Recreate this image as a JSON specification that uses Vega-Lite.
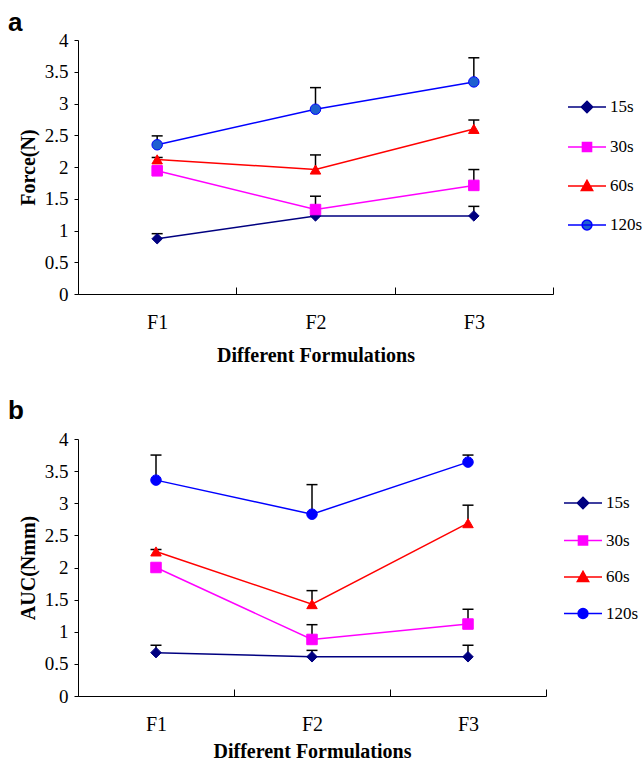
{
  "$schema": "https://vega.github.io/schema/vega-lite/v6.json",
  "background": "white",
  "padding": {"left": 8, "top": 10, "right": 0, "bottom": 0},
  "spacing": 33,
  "datasets": {
    "force": [
      {"form": "F1", "series": "15s", "mean": 0.87, "upper": 0.95},
      {"form": "F2", "series": "15s", "mean": 1.23, "upper": null},
      {"form": "F3", "series": "15s", "mean": 1.23, "upper": 1.38},
      {"form": "F1", "series": "30s", "mean": 1.94, "upper": null},
      {"form": "F2", "series": "30s", "mean": 1.33, "upper": 1.54},
      {"form": "F3", "series": "30s", "mean": 1.71, "upper": 1.96},
      {"form": "F1", "series": "60s", "mean": 2.12, "upper": 2.15},
      {"form": "F2", "series": "60s", "mean": 1.96, "upper": 2.19},
      {"form": "F3", "series": "60s", "mean": 2.60, "upper": 2.74},
      {"form": "F1", "series": "120s", "mean": 2.35, "upper": 2.49},
      {"form": "F2", "series": "120s", "mean": 2.91, "upper": 3.25},
      {"form": "F3", "series": "120s", "mean": 3.34, "upper": 3.72}
    ],
    "auc": [
      {"form": "F1", "series": "15s", "mean": 0.675, "upper": 0.79},
      {"form": "F2", "series": "15s", "mean": 0.61, "upper": 0.71},
      {"form": "F3", "series": "15s", "mean": 0.61, "upper": 0.79},
      {"form": "F1", "series": "30s", "mean": 2.0, "upper": null},
      {"form": "F2", "series": "30s", "mean": 0.88, "upper": 1.11},
      {"form": "F3", "series": "30s", "mean": 1.12, "upper": 1.35},
      {"form": "F1", "series": "60s", "mean": 2.25, "upper": 2.28},
      {"form": "F2", "series": "60s", "mean": 1.43, "upper": 1.64},
      {"form": "F3", "series": "60s", "mean": 2.69, "upper": 2.97},
      {"form": "F1", "series": "120s", "mean": 3.36, "upper": 3.75},
      {"form": "F2", "series": "120s", "mean": 2.83, "upper": 3.29},
      {"form": "F3", "series": "120s", "mean": 3.64, "upper": 3.75}
    ]
  },
  "config": {
    "view": {"stroke": null},
    "axis": {
      "labelFont": "Liberation Serif", "titleFont": "Liberation Serif",
      "labelColor": "#000", "titleColor": "#000", "domainColor": "#000", "tickColor": "#000",
      "grid": false, "titleFontWeight": "bold", "domainWidth": 1, "tickWidth": 1
    },
    "legend": {
      "labelFont": "Liberation Serif", "labelFontSize": 17, "labelColor": "#000"
    }
  },
  "resolve": {"scale": {"color": "independent", "fill": "independent", "stroke": "independent", "shape": "independent"}},
  "vconcat": [
    {
      "width": 475, "height": 254,
      "title": {"text": "a", "anchor": "start", "frame": "group", "dx": -70, "font": "Liberation Sans", "fontSize": 26, "fontWeight": "bold", "color": "#000", "offset": -5},
      "data": {"name": "force"},
      "resolve": {"scale": {"color": "independent", "fill": "independent", "stroke": "independent", "shape": "independent"}},
      "encoding": {
        "x": {"field": "form", "type": "nominal", "scale": {"paddingInner": 0, "paddingOuter": 0},
          "axis": {"title": "Different Formulations", "labelAngle": 0, "tickBand": "extent", "tickSize": -7, "labelPadding": 25, "labelFontSize": 20, "titleFontSize": 20, "titlePadding": 13}},
        "y": {"field": "mean", "type": "quantitative", "scale": {"domain": [0, 4]},
          "axis": {"title": "Force(N)", "values": [0, 0.5, 1, 1.5, 2, 2.5, 3, 3.5, 4], "format": "~g", "tickSize": 4, "labelPadding": 6, "labelFontSize": 19, "titleFontSize": 20, "titlePadding": 6}}
      },
      "layer": [
        {
          "transform": [{"filter": "isValid(datum.upper)"}],
          "mark": {"type": "rule", "color": "#000", "strokeWidth": 1.5},
          "encoding": {"y2": {"field": "upper"}}
        },
        {
          "transform": [{"filter": "isValid(datum.upper)"}],
          "mark": {"type": "tick", "color": "#000", "thickness": 1.5, "size": 11, "orient": "horizontal", "opacity": 1},
          "encoding": {"y": {"field": "upper", "type": "quantitative", "title": "Force(N)"}}
        },
        {
          "mark": {"type": "line", "strokeWidth": 1.5},
          "encoding": {
            "stroke": {"field": "series", "type": "nominal", "legend": null,
              "scale": {"range": ["#0000ff", "#000080", "#ff00ff", "#ff0000"]}}
          }
        },
        {
          "mark": {"type": "point", "filled": true, "size": 110, "opacity": 1, "strokeWidth": 1},
          "encoding": {
            "fill": {"field": "series", "type": "nominal", "legend": null,
              "scale": {"range": ["#1f60d0", "#000080", "#ff00ff", "#ff0000"]}},
            "stroke": {"field": "series", "type": "nominal", "legend": null,
              "scale": {"range": ["#0000ff", "#000080", "#ff00ff", "#ff0000"]}},
            "shape": {"field": "series", "type": "nominal", "legend": null,
              "scale": {"range": ["circle", "diamond", "square", "triangle-up"]}}
          }
        },
        {
          "transform": [{"filter": "false"}],
          "mark": {"type": "point", "filled": true, "opacity": 1, "strokeWidth": 1.5},
          "encoding": {
            "color": {"field": "series", "type": "nominal",
              "scale": {"domain": ["15s", "30s", "60s", "120s"], "range": ["#000080", "#ff00ff", "#ff0000", "#1f60d0"]},
              "legend": {
                "title": null, "orient": "none", "legendX": 489, "legendY": 47, "padding": 0,
                "symbolSize": 1444, "rowPadding": 11, "labelOffset": 3, "symbolStrokeWidth": 1.5,
                "labelFont": "Liberation Serif", "labelFontSize": 17, "labelColor": "#000"
              }},
            "stroke": {"field": "series", "type": "nominal",
              "scale": {"domain": ["15s", "30s", "60s", "120s"], "range": ["#000080", "#ff00ff", "#ff0000", "#0000ff"]}},
            "shape": {"field": "series", "type": "nominal",
              "scale": {"domain": ["15s", "30s", "60s", "120s"], "range": [
                "M-1,0H1M0,-0.3L0.3,0L0,0.3L-0.3,0Z",
                "M-1,0H1M-0.24,-0.24H0.24V0.24H-0.24Z",
                "M-1,0H1M0,-0.3L0.3,0.24L-0.3,0.24Z",
                "M-1,0H1M-0.26,0A0.26,0.26,0,1,1,0.26,0A0.26,0.26,0,1,1,-0.26,0Z"
              ]}}
          }
        }
      ]
    },
    {
      "width": 468, "height": 257,
      "title": {"text": "b", "anchor": "start", "frame": "group", "dx": -70, "font": "Liberation Sans", "fontSize": 26, "fontWeight": "bold", "color": "#000", "offset": 6},
      "data": {"name": "auc"},
      "resolve": {"scale": {"color": "independent", "fill": "independent", "stroke": "independent", "shape": "independent"}},
      "encoding": {
        "x": {"field": "form", "type": "nominal", "scale": {"paddingInner": 0, "paddingOuter": 0},
          "axis": {"title": "Different Formulations", "labelAngle": 0, "tickBand": "extent", "tickSize": -7, "labelPadding": 25, "labelFontSize": 20, "titleFontSize": 20, "titlePadding": 7}},
        "y": {"field": "mean", "type": "quantitative", "scale": {"domain": [0, 4]},
          "axis": {"title": "AUC(Nmm)", "values": [0, 0.5, 1, 1.5, 2, 2.5, 3, 3.5, 4], "format": "~g", "tickSize": 4, "labelPadding": 6, "labelFontSize": 19, "titleFontSize": 20, "titlePadding": 6}}
      },
      "layer": [
        {
          "transform": [{"filter": "isValid(datum.upper)"}],
          "mark": {"type": "rule", "color": "#000", "strokeWidth": 1.5},
          "encoding": {"y2": {"field": "upper"}}
        },
        {
          "transform": [{"filter": "isValid(datum.upper)"}],
          "mark": {"type": "tick", "color": "#000", "thickness": 1.5, "size": 11, "orient": "horizontal", "opacity": 1},
          "encoding": {"y": {"field": "upper", "type": "quantitative", "title": "AUC(Nmm)"}}
        },
        {
          "mark": {"type": "line", "strokeWidth": 1.5},
          "encoding": {
            "stroke": {"field": "series", "type": "nominal", "legend": null,
              "scale": {"range": ["#0000ff", "#000080", "#ff00ff", "#ff0000"]}}
          }
        },
        {
          "mark": {"type": "point", "filled": true, "size": 110, "opacity": 1, "strokeWidth": 1},
          "encoding": {
            "fill": {"field": "series", "type": "nominal", "legend": null,
              "scale": {"range": ["#0000ff", "#000080", "#ff00ff", "#ff0000"]}},
            "stroke": {"field": "series", "type": "nominal", "legend": null,
              "scale": {"range": ["#0000ff", "#000080", "#ff00ff", "#ff0000"]}},
            "shape": {"field": "series", "type": "nominal", "legend": null,
              "scale": {"range": ["circle", "diamond", "square", "triangle-up"]}}
          }
        },
        {
          "transform": [{"filter": "false"}],
          "mark": {"type": "point", "filled": true, "opacity": 1, "strokeWidth": 1.5},
          "encoding": {
            "color": {"field": "series", "type": "nominal",
              "scale": {"domain": ["15s", "30s", "60s", "120s"], "range": ["#000080", "#ff00ff", "#ff0000", "#0000ff"]},
              "legend": {
                "title": null, "orient": "none", "legendX": 485, "legendY": 44, "padding": 0,
                "symbolSize": 1444, "rowPadding": 8.5, "labelOffset": 3, "symbolStrokeWidth": 1.5,
                "labelFont": "Liberation Serif", "labelFontSize": 17, "labelColor": "#000"
              }},
            "stroke": {"field": "series", "type": "nominal",
              "scale": {"domain": ["15s", "30s", "60s", "120s"], "range": ["#000080", "#ff00ff", "#ff0000", "#0000ff"]}},
            "shape": {"field": "series", "type": "nominal",
              "scale": {"domain": ["15s", "30s", "60s", "120s"], "range": [
                "M-1,0H1M0,-0.3L0.3,0L0,0.3L-0.3,0Z",
                "M-1,0H1M-0.24,-0.24H0.24V0.24H-0.24Z",
                "M-1,0H1M0,-0.3L0.3,0.24L-0.3,0.24Z",
                "M-1,0H1M-0.26,0A0.26,0.26,0,1,1,0.26,0A0.26,0.26,0,1,1,-0.26,0Z"
              ]}}
          }
        }
      ]
    }
  ]
}
